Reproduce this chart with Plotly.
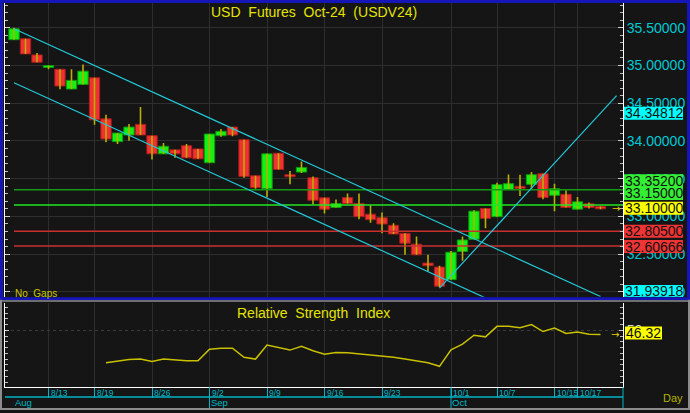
import plotly.graph_objects as go

W, H = 690, 413

# ---------------- data ----------------
dates = ["8/7", "8/8", "8/9", "8/13", "8/14", "8/15", "8/16", "8/19", "8/20", "8/21", "8/22", "8/23",
         "8/26", "8/27", "8/28", "8/29", "8/30",
         "9/2", "9/3", "9/4", "9/5", "9/6", "9/9", "9/10", "9/11", "9/12", "9/13",
         "9/16", "9/17", "9/18", "9/19", "9/20", "9/23", "9/24", "9/25", "9/26", "9/27", "9/30",
         "10/1", "10/2", "10/3", "10/4", "10/7", "10/8", "10/9", "10/10", "10/11",
         "10/15", "10/16", "10/17", "10/18", "10/21"]

opens = [35.342, 35.355, 35.141, 34.974, 34.951, 34.688, 34.750, 34.838, 34.293, 33.991, 34.079, 34.220,
         34.070, 33.829, 33.882, 33.938, 33.895,
         33.711, 34.070, 34.184, 34.017, 33.539, 33.368, 33.838, 33.553, 33.588, 33.513,
         33.246, 33.118, 33.250, 33.171, 33.030, 32.983, 32.882, 32.776, 32.632, 32.382, 32.329,
         32.162, 32.536, 32.697, 33.105, 32.996, 33.355, 33.399, 33.425, 33.566,
         33.280, 33.293, 33.096, 33.167, 33.132]
highs = [35.500, 35.355, 35.167, 35.000, 34.951, 34.951, 35.013, 34.838, 34.346, 34.105, 34.224, 34.451,
         34.070, 33.974, 33.882, 33.961, 33.895,
         34.092, 34.158, 34.184, 34.017, 33.539, 33.829, 33.838, 33.601, 33.728, 33.530,
         33.246, 33.224, 33.303, 33.303, 33.149, 33.053, 32.908, 32.776, 32.733, 32.491, 32.346,
         32.543, 32.733, 33.083, 33.105, 33.447, 33.557, 33.553, 33.588, 33.566,
         33.434, 33.346, 33.259, 33.184, 33.132]
lows = [35.342, 35.154, 35.043, 34.951, 34.684, 34.688, 34.750, 34.214, 33.983, 33.961, 34.004, 34.079,
        33.754, 33.829, 33.776, 33.776, 33.763,
        33.711, 34.057, 34.062, 33.513, 33.368, 33.259, 33.622, 33.425, 33.575, 33.162,
        33.039, 33.118, 33.171, 32.964, 32.917, 32.776, 32.767, 32.491, 32.491, 32.272, 32.060,
        32.162, 32.412, 32.697, 32.842, 32.996, 33.355, 33.272, 33.368, 33.228,
        33.070, 33.118, 33.096, 33.105, 33.096]
closes = [35.487, 35.154, 35.043, 35.000, 34.728, 34.803, 34.925, 34.280, 34.026, 34.105, 34.184, 34.079,
          33.829, 33.930, 33.829, 33.776, 33.763,
          34.092, 34.128, 34.079, 33.530, 33.382, 33.829, 33.622, 33.526, 33.649, 33.214,
          33.096, 33.171, 33.171, 32.996, 32.957, 32.899, 32.767, 32.645, 32.491, 32.346, 32.075,
          32.526, 32.688, 33.070, 32.974, 33.421, 33.434, 33.372, 33.553, 33.250,
          33.368, 33.118, 33.193, 33.118, 33.100]

rsi = [None] * 8 + [21.9, 23.6, 24.7, 25.0,
                    22.8, 25.0, 24.1, 23.6, 23.6,
                    33.6, 34.5, 34.5, 26.5, 25.0, 37.1, 35.1, 32.8, 36.0, 32.2,
                    29.3, 30.8, 30.5, 29.5, 28.8, 27.9, 26.5, 25.0, 23.5, 21.8, 18.7,
                    33.1, 37.9, 45.7, 44.3, 53.4, 53.4, 52.3, 54.9, 48.9,
                    52.0, 47.2, 48.6, 46.6, 46.32]

tick_dates = ["8/13", "8/19", "8/26", "9/2", "9/9", "9/16", "9/23", "10/1", "10/7", "10/15", "10/17"]
month_names = ["Aug", "Sep", "Oct"]
month_starts = ["8/7", "9/2", "10/1"]

# trend lines: anchor positions in trading-day index units, and values
upper_x = [0, 51]
upper_y = [35.487, 31.939]
lower_x = [0, 42]
lower_y = [34.772, 31.850]
rise_x = [37, 52.4]
rise_y = [32.05, 34.60]

levels = [33.352, 33.150, 32.805, 32.60666]
price_labels = [34.34812, 33.35200, 33.15000, 33.10000, 32.80500, 32.60666, 31.93918]
rsi_last = 46.32

# ---------------- styles ----------------
FONT = "Liberation Sans, Arial, sans-serif"
BG = "#151515"
GRID = "#2e2e2e"
CYAN_TXT = "#00c8d4"
UP_FILL, UP_LINE = "#14f014", "#0c9a0c"
DN_FILL, DN_LINE = "#f03232", "#a81c1c"
WICK = "#b8b000"
TREND = "#22c8d8"
level_colors = ["#159a15", "#22e622", "#c83030", "#c83030"]
label_bg = ["#00ffff", "#33ee33", "#33ee33", "#ffff00", "#ee3434", "#ee3434", "#00ffff"]
label_shift = [1.5, 9, 11.6, 0.5, 0, -0.5, 5]


def px(x):
    return x / W


def py(y):
    return 1 - y / H


idx = list(range(len(dates)))
pos = {d: i for i, d in enumerate(dates)}
XL, XR = 5, 623
step = 11.5
x0 = 14
xr = [-(x0 - XL) / step, (XR - x0) / step]

fig = go.Figure()

# wicks
wx, wy = [], []
for i, h, l in zip(idx, highs, lows):
    wx += [i, i, None]
    wy += [l, h, None]
fig.add_trace(go.Scatter(x=wx, y=wy, mode="lines", line=dict(color=WICK, width=1.6),
                         xaxis="x", yaxis="y", hoverinfo="skip", showlegend=False))

# bodies
fills = [UP_FILL if c >= o else DN_FILL for o, c in zip(opens, closes)]
edges = [UP_LINE if c >= o else DN_LINE for o, c in zip(opens, closes)]
fig.add_trace(go.Bar(x=idx, y=[c - o for o, c in zip(opens, closes)], base=opens, width=0.9,
                     marker=dict(color=fills, line=dict(color=edges, width=1)),
                     xaxis="x", yaxis="y", showlegend=False))

# horizontal levels
for lv, col in zip(levels, level_colors):
    fig.add_trace(go.Scatter(x=[0, xr[1]], y=[lv, lv], mode="lines", line=dict(color=col, width=1.5),
                             xaxis="x", yaxis="y", hoverinfo="skip", showlegend=False))

# trend lines
for tx, ty in [(upper_x, upper_y), (lower_x, lower_y), (rise_x, rise_y)]:
    fig.add_trace(go.Scatter(x=tx, y=ty, mode="lines", line=dict(color=TREND, width=1.2),
                             xaxis="x", yaxis="y", hoverinfo="skip", showlegend=False))

# RSI
fig.add_trace(go.Scatter(x=idx, y=rsi, mode="lines", line=dict(color="#c8c000", width=1.5),
                         xaxis="x2", yaxis="y2", hoverinfo="skip", showlegend=False, connectgaps=False))

tickvals = [pos[d] for d in tick_dates]

fig.update_layout(
    width=W, height=H, margin=dict(l=0, r=0, t=0, b=0),
    paper_bgcolor=BG, plot_bgcolor=BG, showlegend=False,
    font=dict(family=FONT),
    xaxis=dict(domain=[px(XL), px(XR)], range=xr, anchor="y", tickvals=tickvals,
               showticklabels=False, showgrid=True, gridcolor=GRID, zeroline=False, ticks=""),
    xaxis2=dict(domain=[px(XL), px(XR)], range=xr, anchor="y2", matches="x", tickvals=tickvals,
                showticklabels=False, showgrid=True, gridcolor=GRID, zeroline=False,
                ticks="outside", ticklen=10, tickcolor="#00b4c4", tickwidth=1,
                showline=True, linecolor="#ffffff", linewidth=1),
    yaxis=dict(domain=[py(299), py(3)], range=[35.5 - (299 - 28) / 76, 35.5 + (28 - 3) / 76],
               anchor="x", side="right", tickmode="linear", tick0=0, dtick=0.5, tickformat=".5f",
               tickfont=dict(size=14, color=CYAN_TXT, family=FONT),
               showgrid=True, gridcolor=GRID, zeroline=False,
               showline=True, linecolor="#ffffff", linewidth=1, mirror="ticks",
               ticks="inside", ticklen=5, tickcolor="#cfcfcf",
               minor=dict(tickmode="linear", tick0=0, dtick=0.1, ticks="inside", ticklen=3,
                          tickcolor="#bdbdbd", showgrid=False)),
    yaxis2=dict(domain=[py(390), py(305)], range=[50 - (390 - 332.7) / 1.16, 50 + (332.7 - 305) / 1.16],
                anchor="x2", side="right", tickmode="array", tickvals=[50], ticktext=["50"],
                tickfont=dict(size=14, color="#d0d0d0", family=FONT),
                showgrid=True, gridcolor="#3a3a3a", griddash="dot", zeroline=False,
                showline=True, linecolor="#ffffff", linewidth=1, mirror="ticks",
                ticks="inside", ticklen=4, tickcolor="#cfcfcf",
                minor=dict(tickmode="linear", tick0=0, dtick=5, ticks="inside", ticklen=3,
                           tickcolor="#bdbdbd", showgrid=False)),
)

shapes = []
ann = []

# price label boxes + text
for v, bg, sh in zip(price_labels, label_bg, label_shift):
    shapes.append(dict(type="rect", xref="paper", yref="y", x0=px(624), x1=px(683),
                       ysizemode="pixel", yanchor=v, y0=-6.5 + sh, y1=6.5 + sh,
                       fillcolor=bg, line=dict(width=0), layer="above"))
    ann.append(dict(xref="paper", yref="y", x=px(624), y=v, yshift=sh, xanchor="left", yanchor="middle",
                    text=f"{v:.5f}", showarrow=False, borderpad=0,
                    font=dict(size=14, color="#111111", family=FONT)))

# RSI last value box
shapes.append(dict(type="rect", xref="paper", yref="y2", x0=px(625), x1=px(662),
                   ysizemode="pixel", yanchor=rsi_last, y0=-6.5 + 1.5, y1=6.5 + 1.5,
                   fillcolor="#ffff00", line=dict(width=0), layer="above"))
ann.append(dict(xref="paper", yref="y2", x=px(625), y=rsi_last, yshift=1.5, xanchor="left", yanchor="middle",
                text=f"{rsi_last:.2f}", showarrow=False, borderpad=0,
                font=dict(size=14, color="#111111", family=FONT)))

# small arrows marking last values
ann.append(dict(xref="paper", yref="y", x=px(616), y=closes[-1], text="→", showarrow=False,
                xanchor="center", yanchor="middle",
                font=dict(size=10, color="#e8d000", family="DejaVu Sans")))
ann.append(dict(xref="paper", yref="y2", x=px(615), y=rsi[-1], text="→", showarrow=False,
                xanchor="center", yanchor="middle",
                font=dict(size=10, color="#e8d000", family="DejaVu Sans")))

# titles
NB = "\u00a0"
ann.append(dict(xref="paper", yref="paper", x=px(313.5), y=py(12), xanchor="center", yanchor="middle",
                text=f"USD{NB}{NB}Futures{NB}{NB}Oct-24{NB}{NB}(USDV24)", showarrow=False,
                font=dict(size=14, color="#e4e400", family=FONT)))
ann.append(dict(xref="paper", yref="paper", x=px(313), y=py(315.5), xanchor="center", yanchor="middle",
                text=f"Relative{NB}{NB}Strength{NB}{NB}Index", showarrow=False,
                font=dict(size=14, color="#e4e400", family=FONT)))
ann.append(dict(xref="paper", yref="paper", x=px(13), y=py(296), xanchor="left", yanchor="middle",
                text=f"No{NB}{NB}Gaps", showarrow=False,
                font=dict(size=10, color="#c8c800", family=FONT)))
ann.append(dict(xref="paper", yref="paper", x=px(661), y=py(401), xanchor="left", yanchor="middle",
                text="Day", showarrow=False, font=dict(size=11, color="#b4b400", family=FONT)))

# date labels
for d in tick_dates:
    ann.append(dict(xref="x2", yref="paper", x=pos[d], y=py(396), xanchor="left", yanchor="middle",
                    xshift=0, text=d, showarrow=False,
                    font=dict(size=8.5, color="#00b8c8", family=FONT)))
for m, d in zip(month_names, month_starts):
    ann.append(dict(xref="x2", yref="paper", x=pos[d], y=py(405.5), xanchor="left", yanchor="middle",
                    xshift=-1, text=m, showarrow=False,
                    font=dict(size=9.5, color="#00b8c8", family=FONT)))
    if d != dates[0]:
        shapes.append(dict(type="line", xref="x2", yref="paper", x0=pos[d], x1=pos[d],
                           y0=py(390), y1=py(413), line=dict(color="#00b4c4", width=1)))

# date-axis cyan rules
shapes.append(dict(type="line", xref="paper", yref="paper", x0=px(5), x1=px(623), y0=py(400), y1=py(400),
                   line=dict(color="#00b4c4", width=1.5)))
shapes.append(dict(type="line", xref="paper", yref="paper", x0=px(623), x1=px(623), y0=py(390), y1=py(413),
                   line=dict(color="#00b4c4", width=1)))

# frames
BLUE = "#1616b8"
GREY = "#8c8c8c"
for (a, b, c, d, col) in [
    (0, 0, 690, 3, BLUE), (0, 0, 3, 302, BLUE), (687, 0, 690, 302, BLUE), (0, 299.5, 690, 302.5, BLUE),
    (0, 302.5, 690, 304, GREY), (0, 302, 2, 413, GREY), (688, 302, 690, 413, GREY), (0, 411, 690, 413, GREY),
]:
    shapes.append(dict(type="rect", xref="paper", yref="paper", x0=px(a), x1=px(c), y0=py(d), y1=py(b),
                       fillcolor=col, line=dict(width=0), layer="above"))

fig.update_layout(shapes=shapes, annotations=ann)
fig.write_html("out.html", config={"displayModeBar": False},
               post_script="document.body.style.margin='0';document.body.style.padding='0';"
                           "document.body.style.overflow='hidden';"
                           "document.body.style.background='" + BG + "';")
